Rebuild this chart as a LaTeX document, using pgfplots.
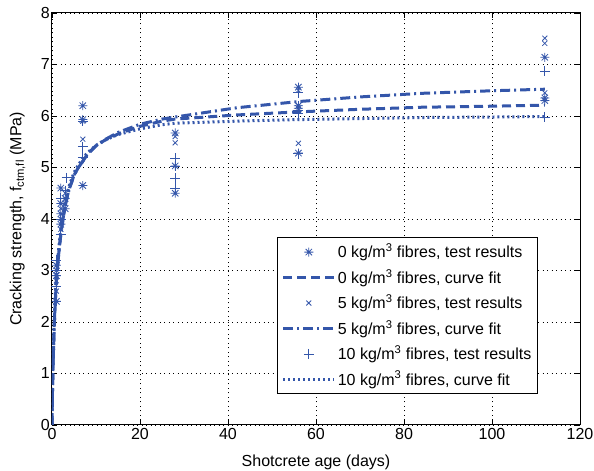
\documentclass[border=0pt]{standalone}
\usepackage{fontspec}
\setmainfont{Liberation Sans}
\usepackage{pgfplots}
\pgfplotsset{compat=1.18}
\definecolor{mblue}{RGB}{52,86,170}

% matlab style 8-arm asterisk
\pgfdeclareplotmark{mstar}{%
  \pgfpathmoveto{\pgfqpoint{-\pgfplotmarksize}{0pt}}\pgfpathlineto{\pgfqpoint{\pgfplotmarksize}{0pt}}%
  \pgfpathmoveto{\pgfqpoint{0pt}{-\pgfplotmarksize}}\pgfpathlineto{\pgfqpoint{0pt}{\pgfplotmarksize}}%
  \pgfpathmoveto{\pgfqpoint{-.707\pgfplotmarksize}{-.707\pgfplotmarksize}}\pgfpathlineto{\pgfqpoint{.707\pgfplotmarksize}{.707\pgfplotmarksize}}%
  \pgfpathmoveto{\pgfqpoint{-.707\pgfplotmarksize}{.707\pgfplotmarksize}}\pgfpathlineto{\pgfqpoint{.707\pgfplotmarksize}{-.707\pgfplotmarksize}}%
  \pgfusepathqstroke}

\begin{document}
\fontsize{16bp}{18bp}\selectfont
\begin{tikzpicture}
\begin{axis}[
  scale only axis,
  width=528bp, height=412bp,
  xmin=0, xmax=120, ymin=0, ymax=8,
  xtick={0,20,...,120}, ytick={0,1,...,8},
  grid=major,
  major grid style={black, line width=0.6bp, dash pattern=on 1bp off 3.5bp},
  axis line style={black, line width=1bp},
  tick style={black, line width=0.8bp},
  major tick length=5bp,
  tick align=inside,
  xtick pos=both, ytick pos=both,
  /pgf/number format/assume math mode=true,
  tick label style={font=\fontsize{16bp}{18bp}\selectfont},
  yticklabel style={inner xsep=2bp},
  xticklabel style={inner ysep=3bp},
  label style={font=\fontsize{16bp}{18bp}\selectfont},
  xlabel={Shotcrete age (days)},
  ylabel={Cracking strength, f\textsubscript{ctm,fl} (MPa)},
  xlabel style={yshift=-7bp},
  ylabel style={yshift=8bp},
  legend cell align=left,
  legend style={at={(0.92,0.075)}, anchor=south east, draw=black, line width=1bp,
    font=\fontsize{16bp}{18bp}\selectfont, row sep=5bp, inner xsep=4bp, inner ysep=4bp},
  legend image code/.code={\draw[mark repeat=2,mark phase=2,#1] plot coordinates {(0cm,0cm) (0.9cm,0cm) (1.8cm,0cm)};},
]
% 0 kg/m3 test results
\addplot[only marks, mark=mstar, mark size=4.5bp, color=mblue, line width=0.8bp] coordinates {
 (1,2.4) (1,2.9) (1,3.1) (2,3.9) (2,4.1) (2,4.3) (3,4.2) (3,4.4) (2,4.6)
 (7,6.2) (7,5.93) (7,4.65) (28,5.67) (28,5.03) (28,4.5)
 (56,6.56) (56,6.2) (56,6.15) (56,5.28) (112,7.14) (112,6.35) (112,6.3)};
\addlegendentry{0 kg/m\textsuperscript{3} fibres, test results}
% 0 kg/m3 curve fit
\addplot[color=mblue, line width=3bp, dash pattern=on 9bp off 5bp] coordinates {
 (0,0) (0.1,0.6) (0.25,1.2) (0.5,1.9) (0.75,2.4) (1,2.8) (1.5,3.3) (2,3.7) (2.5,4.0)
 (3,4.25) (3.5,4.45) (4,4.6) (5,4.85) (6,5.0) (7,5.12) (8,5.25) (10,5.42) (12,5.53)
 (15,5.65) (20,5.8) (25,5.9) (28,5.94) (35,5.98) (42,6.02) (56,6.08) (70,6.13)
 (84,6.17) (100,6.19) (112,6.21)};
\addlegendentry{0 kg/m\textsuperscript{3} fibres, curve fit}
% 5 kg/m3 test results
\addplot[only marks, mark=x, mark size=3.5bp, color=mblue, line width=0.8bp] coordinates {
 (1,2.6) (1,2.8) (1,3.0) (2,3.8) (2,4.0) (2,4.2) (3,4.3) (3,4.5)
 (7,5.55) (7,5.9) (28,5.6) (28,5.48)
 (56,6.5) (56,6.2) (56,5.47) (112,7.51) (112,7.41) (112,6.45)};
\addlegendentry{5 kg/m\textsuperscript{3} fibres, test results}
% 5 kg/m3 curve fit
\addplot[color=mblue, line width=3bp, dash pattern=on 10bp off 4bp on 2bp off 4bp] coordinates {
 (0,0) (0.1,0.6) (0.25,1.2) (0.5,1.9) (0.75,2.4) (1,2.8) (1.5,3.3) (2,3.7) (2.5,4.0)
 (3,4.25) (3.5,4.45) (4,4.6) (5,4.85) (6,5.0) (7,5.12) (8,5.25) (10,5.42) (12,5.54)
 (15,5.68) (20,5.84) (25,5.94) (28,5.98) (35,6.07) (42,6.16) (56,6.28) (70,6.37)
 (84,6.44) (100,6.49) (112,6.52)};
\addlegendentry{5 kg/m\textsuperscript{3} fibres, curve fit}
% 10 kg/m3 test results
\addplot[only marks, mark=+, mark size=5bp, color=mblue, line width=0.8bp] coordinates {
 (1,2.7) (1,3.0) (1,3.2) (2,3.7) (2,4.0) (2,4.4) (3,4.55) (3.3,4.8)
 (7,5.4) (7,5.9) (7,5.2) (28,5.18) (28,5.02) (28,4.79) (28,4.6)
 (56,6.45) (56,6.1) (56,6.06) (56,5.27) (112,6.87) (112,5.98)};
\addlegendentry{10 kg/m\textsuperscript{3} fibres, test results}
% 10 kg/m3 curve fit
\addplot[color=mblue, line width=3bp, dash pattern=on 2bp off 3bp] coordinates {
 (0,0) (0.1,0.65) (0.25,1.3) (0.5,2.0) (0.75,2.5) (1,2.9) (1.5,3.4) (2,3.8) (2.5,4.1)
 (3,4.33) (3.5,4.52) (4,4.67) (5,4.9) (6,5.05) (7,5.18) (8,5.28) (10,5.43) (12,5.53)
 (15,5.64) (20,5.75) (25,5.83) (28,5.86) (35,5.88) (42,5.9) (56,5.93) (70,5.95)
 (84,5.97) (100,5.98) (112,5.99)};
\addlegendentry{10 kg/m\textsuperscript{3} fibres, curve fit}
\end{axis}
\pgfresetboundingbox
\path ([shift={(-52bp,-46bp)}]current axis.south west) rectangle ([shift={(14bp,13bp)}]current axis.north east);
\end{tikzpicture}
\end{document}
